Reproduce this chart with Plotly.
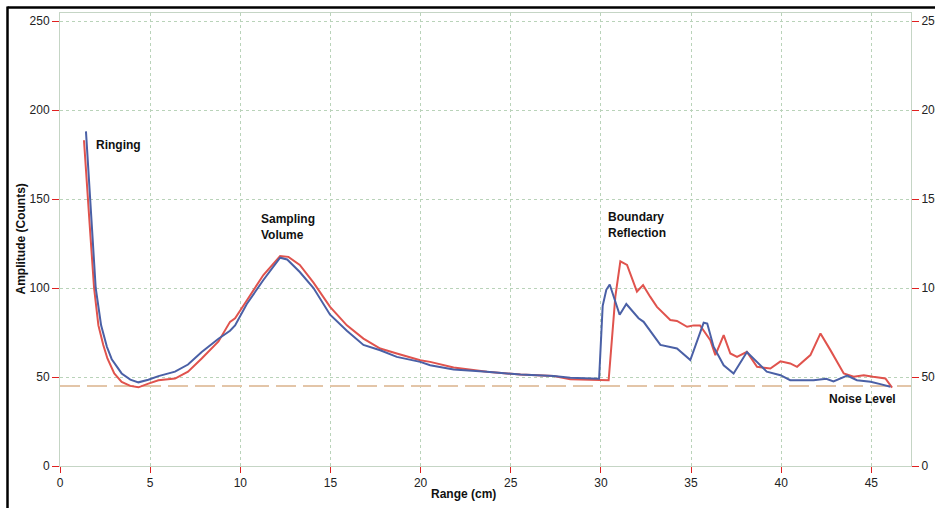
import plotly.graph_objects as go

# ---- data ----
blue_x = [1.44, 1.55, 1.66, 1.76, 1.98, 2.28, 2.6, 2.87, 3.42, 3.9, 4.35, 4.9, 5.46, 6.38, 7.1, 7.86, 8.79,
          9.43, 9.71, 10.36, 11.28, 12.21, 12.6, 13.3, 14.06, 14.98, 15.91, 16.83, 17.76, 18.68, 19.98,
          20.53, 21.83, 23.68, 25.54, 27.38, 28.3, 29.9, 30.1, 30.3, 30.49, 31.04, 31.41, 32.09, 32.37,
          33.3, 34.22, 34.96, 35.7, 35.9, 36.25, 36.81, 37.36, 38.1, 38.85, 39.2, 39.96, 40.5, 41.8,
          42.5, 42.9, 43.66, 44.2, 44.96, 45.5, 46.06]
blue_y = [188, 170, 148, 130, 100, 79, 67, 60, 52, 48.5, 47, 48.5, 50.5, 53, 57, 64, 71.5,
          76, 79, 91, 104.5, 117, 116, 109, 100, 85, 76, 68, 65, 61.3, 58.5,
          56.6, 54.2, 52.9, 51.4, 50.6, 49.6, 49, 90, 99, 102, 85, 91, 83, 81,
          68, 66, 59.5, 80.5, 80, 67, 56.6, 52, 64, 56.6, 53, 51, 48.2, 48.2,
          49, 47.5, 50.8, 48.2, 47.3, 46, 44.5]

red_x = [1.33, 1.5, 1.65, 1.89, 2.13, 2.4, 2.63, 3.01, 3.42, 3.9, 4.35, 4.9, 5.46, 6.38, 7.1, 7.86, 8.79,
         9.43, 9.71, 10.36, 11.28, 12.21, 12.67, 13.3, 14.06, 14.98, 15.91, 16.83, 17.76, 18.68, 19.98,
         20.53, 21.83, 23.68, 25.54, 27.38, 28.3, 30.43, 30.8, 31.08, 31.45, 32.0, 32.34, 32.74, 33.11,
         33.85, 34.22, 34.78, 35.15, 35.5, 36.07, 36.35, 36.81, 37.18, 37.55, 38.1, 38.66, 39.4, 39.96,
         40.5, 40.88, 41.62, 42.18, 42.73, 43.47, 44.02, 44.58, 45.1, 45.78, 46.15]
red_y = [183, 160, 135, 100, 79, 68, 60.4, 52, 47.3, 45, 44.2, 46.3, 48.2, 49.1, 53, 60.4, 70,
         81, 83, 93, 107.3, 117.9, 117.5, 113, 103, 89.4, 79, 71.6, 66, 63.2, 59.4,
         58.5, 55.3, 52.9, 51.4, 50.6, 48.8, 48.2, 95, 115, 113, 98, 101.6, 95, 89.4,
         82, 81.5, 78.2, 79, 79, 70.7, 62.3, 73.5, 63.2, 61.3, 64.1, 55.7, 54.8, 58.8,
         57.6, 55.7, 62.3, 74.5, 65.1, 52, 50.1, 51, 50.1, 49.2, 44]

noise_level = 45
x_ticks = [0, 5, 10, 15, 20, 25, 30, 35, 40, 45]
y_ticks = [0, 50, 100, 150, 200, 250]
x_range = [0, 47.2]
y_range = [0, 254.5]

labels = [
    ("Ringing", 1.9, 180.3),
    ("Sampling<br>Volume", 11.05, 134.5),
    ("Boundary<br>Reflection", 30.3, 135.6),
    ("Noise Level", 42.55, 37.5),
]

W, H = 935, 508
ML, MR, MT, MB = 60, 24, 13, 42
PW, PH = W - ML - MR, H - MT - MB

fig = go.Figure()
fig.add_trace(go.Scatter(x=[x_range[0], x_range[1]], y=[noise_level, noise_level], mode="lines",
                         line=dict(color="#e3c5a8", width=2, dash="20px,7px"), hoverinfo="skip"))
fig.add_trace(go.Scatter(x=red_x, y=red_y, mode="lines", line=dict(color="#e0534d", width=2)))
fig.add_trace(go.Scatter(x=blue_x, y=blue_y, mode="lines", line=dict(color="#4a60a6", width=2)))
fig.add_trace(go.Scatter(x=[None], y=[None], yaxis="y2", showlegend=False))

grid = dict(showgrid=True, gridcolor="#b9d3b9", griddash="3px,3px", gridwidth=1)
tickfont = dict(family="Liberation Sans, Arial", size=12, color="#222222")
fig.update_layout(
    width=W, height=H, showlegend=False,
    margin=dict(l=ML, r=MR, t=MT, b=MB, autoexpand=False),
    paper_bgcolor="white", plot_bgcolor="white",
    xaxis=dict(range=x_range, tickvals=x_ticks, ticks="outside", ticklen=6, tickcolor="#e02020",
               tickwidth=1, showline=True, linecolor="#c5d5c5", mirror=True, zeroline=False,
               tickfont=tickfont, automargin=False, **grid),
    yaxis=dict(range=y_range, tickvals=y_ticks, ticks="outside", ticklen=7, tickcolor="#e02020",
               tickwidth=1, showline=True, linecolor="#c5d5c5", mirror=True, zeroline=False,
               tickfont=tickfont, automargin=False, **grid),
    yaxis2=dict(range=y_range, tickvals=y_ticks, overlaying="y", side="right", ticks="outside",
                ticklen=7, tickcolor="#e02020", showgrid=False, zeroline=False, tickfont=tickfont,
                automargin=False),
)

for txt, x, y in labels:
    fig.add_annotation(x=x, y=y, xref="x", yref="y", text=f"<b>{txt}</b>", showarrow=False,
                       xanchor="left", yanchor="middle", align="left",
                       font=dict(family="Liberation Sans, Arial", size=12, color="#111111"))

# axis titles
fig.add_annotation(x=(463 - ML) / PW, y=(H - MB - 494) / PH, xref="paper", yref="paper",
                   text="<b>Range (cm)</b>", showarrow=False, xanchor="center", yanchor="middle",
                   font=dict(family="Liberation Sans, Arial", size=12, color="#111111"))
fig.add_annotation(x=(20 - ML) / PW, y=0.5, xref="paper", yref="paper", textangle=-90,
                   text="<b>Amplitude (Counts)</b>", showarrow=False, xanchor="center", yanchor="middle",
                   font=dict(family="Liberation Sans, Arial", size=12, color="#111111"))

# black frame lines on top and left of the picture
def px_x(p):
    return (p - ML) / PW

def px_y(p):
    return (H - MB - p) / PH

fig.add_shape(type="line", xref="paper", yref="paper", x0=px_x(7.5), x1=px_x(W + 5),
              y0=px_y(7.5), y1=px_y(7.5), line=dict(color="black", width=2.5))
fig.add_shape(type="line", xref="paper", yref="paper", x0=px_x(7.5), x1=px_x(7.5),
              y0=px_y(6.5), y1=px_y(H + 5), line=dict(color="black", width=2.5))

fig.write_html("out.html")
